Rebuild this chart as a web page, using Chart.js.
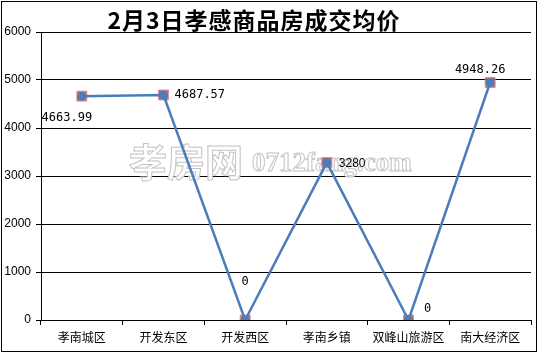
<!DOCTYPE html>
<html>
<head>
<meta charset="utf-8">
<script src="https://cdn.jsdelivr.net/npm/chart.js@4/dist/chart.umd.min.js"></script>
<style>
  body { margin: 0; background: #fff; }
  .canvas-container { width: 539px; height: 354px; }
</style>
</head>
<body>
<div class="canvas-container"><canvas id="myChart"></canvas></div>
<script>
//chart data
const titleText = "2月3日孝感商品房成交均价";
const districts = ["孝南城区", "开发东区", "开发西区", "孝南乡镇", "双峰山旅游区", "南大经济区"];
const avgPrice = [4663.99, 4687.57, 0, 3280, 0, 4948.26];
const priceLabels = ["4663.99", "4687.57", "0", "3280", "0", "4948.26"];
const yTicks = [0, 1000, 2000, 3000, 4000, 5000, 6000];

//label offsets from each point: [dx, dy, align]
const labelPos = [[-15, 22, "center"], [11, 0, "left"], [0, -38, "center"], [12, 1, "left"], [19, -11, "center"], [-10, -13, "center"]];

//title, watermark, value labels and frame
const decor = {
  id: "decor",
  beforeDatasetsDraw(chart) {
    const ctx = chart.ctx;
    ctx.save();
    ctx.lineWidth = 1;
    ctx.strokeStyle = "rgb(195,195,195)";
    ctx.fillStyle = "rgba(255,255,255,0.92)";
    ctx.textBaseline = "alphabetic";
    ctx.textAlign = "left";
    ctx.font = "bold 38px 'Noto Sans CJK SC'";
    ctx.fillText("孝房网", 129, 176);
    ctx.strokeText("孝房网", 129, 176);
    ctx.font = "bold 27px 'Liberation Serif'";
    ctx.fillText("0712fang.com", 252, 171);
    ctx.strokeText("0712fang.com", 252, 171);
    ctx.restore();
  },
  afterDraw(chart) {
    const ctx = chart.ctx;
    ctx.save();
    ctx.fillStyle = "#000";
    ctx.textAlign = "center";
    ctx.textBaseline = "alphabetic";
    ctx.font = "bold 23px 'Noto Sans CJK SC'";
    ctx.letterSpacing = "1px";
    ctx.fillText(titleText, 254, 29);
    ctx.letterSpacing = "0px";

    //value labels
    const meta = chart.getDatasetMeta(0);
    ctx.textBaseline = "middle";
    meta.data.forEach((pt, i) => {
      const p = labelPos[i];
      ctx.textAlign = p[2];
      ctx.font = i === 3 ? "12px 'Liberation Sans'" : "12px 'DejaVu Sans Mono'";
      ctx.fillText(priceLabels[i], pt.x + p[0], pt.y + p[1]);
    });

    //outer frame
    ctx.strokeStyle = "#000";
    ctx.lineWidth = 1;
    ctx.strokeRect(1.5, 1.5, 535, 350);
    ctx.restore();
  }
};

const data = {
  labels: districts,
  datasets: [
    {
      label: "均价",
      data: avgPrice,
      borderColor: "rgb(74,126,187)",
      borderWidth: 2.5,
      backgroundColor: "rgb(74,126,187)",
      pointStyle: "circle",
      pointRadius: 4.5,
      pointBorderWidth: 0,
      tension: 0
    },
    {
      label: "marker",
      data: avgPrice,
      showLine: false,
      pointStyle: "rect",
      pointRadius: 7,
      pointBackgroundColor: "rgba(200,70,70,0.8)",
      pointBorderColor: "rgba(225,130,130,0.9)",
      pointBorderWidth: 1
    }
  ]
};

const config = {
  type: "line",
  data: data,
  plugins: [decor],
  options: {
    responsive: true,
    maintainAspectRatio: false,
    animation: false,
    layout: { padding: { top: 32, right: 4, bottom: 0, left: 0 } },
    plugins: {
      legend: { display: false },
      tooltip: { enabled: false }
    },
    scales: {
      x: {
        offset: true,
        afterFit: (scale) => { scale.height = 34; },
        grid: { display: true, offset: true, drawOnChartArea: false, drawTicks: true, tickLength: 5, color: "#000" },
        border: { display: true, color: "#000", width: 1 },
        ticks: { color: "#000", padding: 5, maxRotation: 0, autoSkip: false, font: { family: "'Noto Sans CJK SC'", size: 12 } }
      },
      y: {
        min: 0,
        max: 6000,
        afterFit: (scale) => { scale.width = 41; },
        afterBuildTicks: (scale) => { scale.ticks = yTicks.map(v => ({ value: v })); },
        grid: { color: "#000", lineWidth: 1, tickLength: 5 },
        border: { display: true, color: "#000", width: 1 },
        ticks: { color: "#000", padding: 5, callback: (v) => String(v), font: { family: "'Liberation Sans'", size: 12 } }
      }
    }
  }
};

const myChart = new Chart(document.getElementById("myChart"), config);
</script>
</body>
</html>
